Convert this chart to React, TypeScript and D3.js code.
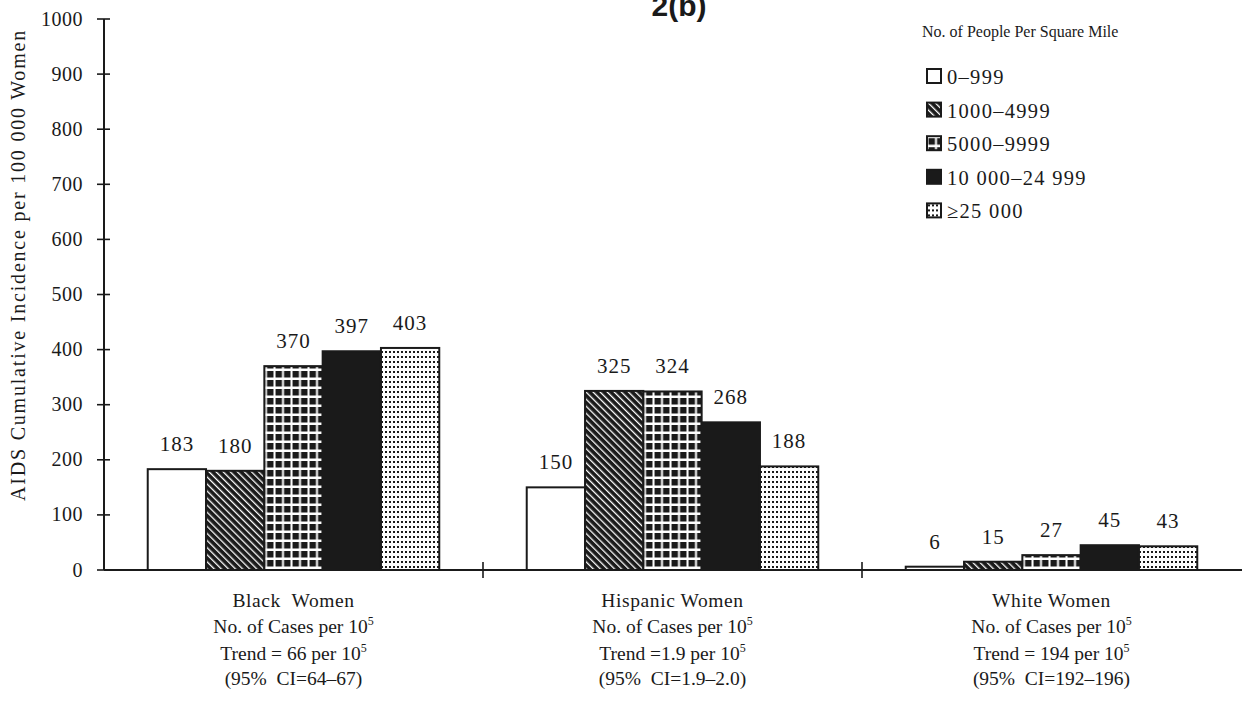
import React from "react";
import * as d3 from "d3";

const groups = ["Black  Women", "Hispanic Women", "White Women"];
const groupNotes = [
  ["Trend = 66 per 10", "(95%  CI=64–67)"],
  ["Trend =1.9 per 10", "(95%  CI=1.9–2.0)"],
  ["Trend = 194 per 10", "(95%  CI=192–196)"],
];
const densityClasses = ["0–999", "1000–4999", "5000–9999", "10 000–24 999", "≥25 000"];
const blackValues = [183, 180, 370, 397, 403];
const hispanicValues = [150, 325, 324, 268, 188];
const whiteValues = [6, 15, 27, 45, 43];
const yTicks = [0, 100, 200, 300, 400, 500, 600, 700, 800, 900, 1000];

const allValues = [blackValues, hispanicValues, whiteValues];
const fills = ["#fff", "url(#diag)", "url(#grid)", "#1a1a1a", "url(#dots)"];

const W = 1246;
const H = 705;
const left = 104;
const right = 1242;
const top = 19;
const bottom = 570;
const serif = "'Liberation Serif', 'Times New Roman', serif";

export default function App() {
  const y = d3.scaleLinear().domain([0, 1000]).range([bottom, top]);
  const x0 = d3.scaleBand().domain(groups).range([left, left + 379 * 3]).paddingInner(0).paddingOuter(0);
  const x1 = d3
    .scaleBand()
    .domain(densityClasses)
    .range([0, x0.bandwidth()])
    .paddingInner(0)
    .paddingOuter(0.75);

  return (
    <svg width={W} height={H} style={{ display: "block", position: "absolute", left: 0, top: 0, background: "#fff" }}>
      <defs>
        <pattern id="diag" patternUnits="userSpaceOnUse" width="5" height="5" patternTransform="rotate(-45)">
          <rect width="5" height="5" fill="#1a1a1a" />
          <rect x="0" y="0" width="1.3" height="5" fill="#fff" />
        </pattern>
        <pattern id="grid" patternUnits="userSpaceOnUse" width="8.5" height="9">
          <rect width="8.5" height="9" fill="#fff" />
          <rect x="1.5" y="2" width="6.5" height="6.5" fill="#1a1a1a" />
        </pattern>
        <pattern id="dots" patternUnits="userSpaceOnUse" width="4" height="5">
          <rect width="4" height="5" fill="#fff" />
          <rect x="1" y="1" width="2" height="2" fill="#1a1a1a" />
        </pattern>
      </defs>

      <text x={679} y={16} textAnchor="middle" fontFamily="'Liberation Sans', Arial, sans-serif" fontWeight="bold" fontSize={30} fill="#1a1a1a">
        2(b)
      </text>

      {/* y axis */}
      <line x1={left} x2={left} y1={top} y2={bottom} stroke="#1a1a1a" strokeWidth={2} />
      {yTicks.map((t) => (
        <g key={t}>
          <line x1={left - 7} x2={left + 6} y1={y(t)} y2={y(t)} stroke="#1a1a1a" strokeWidth={1.6} />
          <text x={83} y={y(t) + 6.5} textAnchor="end" fontFamily={serif} fontSize={20} letterSpacing={0.5} fill="#1a1a1a">
            {t}
          </text>
        </g>
      ))}
      <text
        transform={`translate(25,265) rotate(-90)`}
        textAnchor="middle"
        fontFamily={serif}
        fontSize={20}
        letterSpacing={1.8}
        fill="#1a1a1a"
      >
        AIDS Cumulative Incidence per 100 000 Women
      </text>

      {/* bars */}
      {groups.map((g, gi) => (
        <g key={g} transform={`translate(${x0(g)},0)`}>
          {allValues[gi].map((v, i) => {
            const bx = x1(densityClasses[i])!;
            return (
              <g key={i}>
                <rect
                  x={bx}
                  y={y(v)}
                  width={x1.bandwidth()}
                  height={bottom - y(v)}
                  fill={fills[i]}
                  stroke="#1a1a1a"
                  strokeWidth={2}
                />
                <text
                  x={bx + x1.bandwidth() / 2}
                  y={y(v) - 18}
                  textAnchor="middle"
                  fontFamily={serif}
                  fontSize={21}
                  letterSpacing={1}
                  fill="#1a1a1a"
                >
                  {v}
                </text>
              </g>
            );
          })}
        </g>
      ))}

      {/* x axis */}
      <line x1={left} x2={right} y1={bottom} y2={bottom} stroke="#1a1a1a" strokeWidth={2} />
      {groups.slice(1).map((g) => (
        <line key={g} x1={x0(g)!} x2={x0(g)!} y1={bottom - 8} y2={bottom + 8} stroke="#1a1a1a" strokeWidth={1.6} />
      ))}

      {/* group labels */}
      {groups.map((g, gi) => {
        const cx = x0(g)! + x0.bandwidth() / 2;
        return (
          <g key={g} fontFamily={serif} fontSize={19.5} fill="#1a1a1a" textAnchor="middle">
            <text x={cx} y={607} letterSpacing={0.6} xmlSpace="preserve">{g}</text>
            <text x={cx} y={633}>
              No. of Cases per 10<tspan dy={-8} fontSize={12}>5</tspan>
            </text>
            <text x={cx} y={660}>
              {groupNotes[gi][0]}<tspan dy={-8} fontSize={12}>5</tspan>
            </text>
            <text x={cx} y={685} xmlSpace="preserve">{groupNotes[gi][1]}</text>
          </g>
        );
      })}

      {/* legend */}
      <text x={922} y={37} fontFamily={serif} fontSize={16} fill="#1a1a1a">
        No. of People Per Square Mile
      </text>
      {densityClasses.map((c, i) => (
        <g key={c} transform={`translate(927,${69 + i * 33.6})`}>
          <rect x={0} y={0} width={14} height={14} fill={fills[i]} stroke="#1a1a1a" strokeWidth={2} />
          <text x={20} y={15} fontFamily={serif} fontSize={20.5} letterSpacing={1.3} fill="#1a1a1a">
            {c}
          </text>
        </g>
      ))}
    </svg>
  );
}
